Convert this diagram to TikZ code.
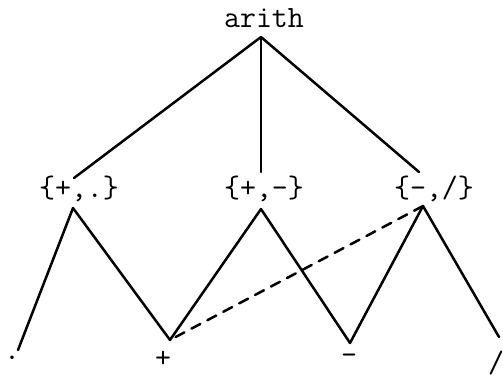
\documentclass[tikz,border=0pt]{standalone}
\begin{document}
\begin{tikzpicture}[x=0.5pt,y=-0.5pt,line width=1.25pt,
  lbl/.style={inner sep=0pt,anchor=base,font=\fontsize{15.5}{18}\selectfont\ttfamily},
  edge/.style={line cap=round,line join=round},
  dashedge/.style={dashed,dash pattern=on 5pt off 4pt}]
\useasboundingbox (0,0) rectangle (503,376);
% labels
\node[lbl] (arith) at (264,27) {arith};
\node[lbl] (pd) at (79,197) {\{+,.\}};
\node[lbl] (pm) at (264,197) {\{+,-\}};
\node[lbl] (ms) at (434,197) {\{-,/\}};
\node[lbl] (dot) at (12,359) {.};
\node[lbl] (plus) at (163,367) {+};
\node[lbl] (minus) at (349,364) {-};
\node[lbl] (slash) at (496,372) {/};
% connector ends
\coordinate (aB) at (261,37);
\coordinate (pdT) at (74,178);
\coordinate (pmT) at (261,172);
\coordinate (msT) at (419,172);
\coordinate (pdB) at (73,208);
\coordinate (pmB) at (261,209);
\coordinate (msB) at (423,206);
\coordinate (dotT) at (18,350);
\coordinate (plusT) at (170,340);
\coordinate (minusT) at (350,343);
\coordinate (slashT) at (499,337);
% edges
\draw[edge] (pdT) -- (aB) -- (msT);
\draw[edge] (aB) -- (pmT);
\draw[edge] (dotT) -- (pdB) -- (plusT) -- (pmB) -- (minusT) -- (msB) -- (slashT);
\draw[edge,dashedge] (msB) -- (plusT);
\end{tikzpicture}
\end{document}
